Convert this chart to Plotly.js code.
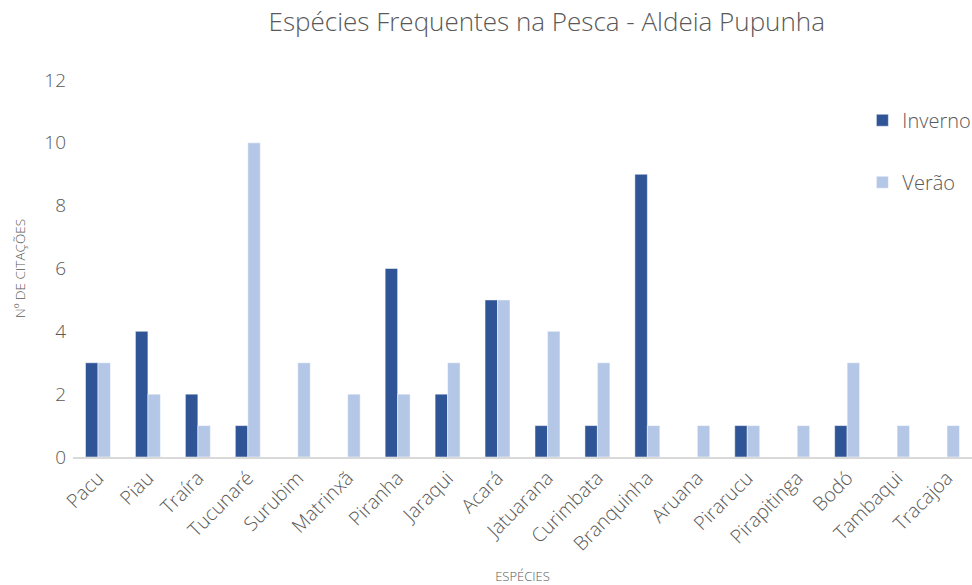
<!DOCTYPE html>
<html>
<head>
<meta charset="utf-8">
<script src="https://cdn.plot.ly/plotly-3.0.1.min.js"></script>
<style>
  html, body { margin: 0; padding: 0; background: #fff; }
  #chart { width: 972px; height: 585px; }
</style>
</head>
<body>
<div id="chart"></div>
<script>
// Species cited in fishing, by season
const especies = ["Pacu", "Piau", "Traíra", "Tucunaré", "Surubim", "Matrinxã", "Piranha", "Jaraqui",
  "Acará", "Jatuarana", "Curimbata", "Branquinha", "Aruana", "Pirarucu", "Pirapitinga", "Bodó",
  "Tambaqui", "Tracajoa"];
const inverno = [3, 4, 2, 1, 0, 0, 6, 2, 5, 1, 1, 9, 0, 1, 0, 1, 0, 0];
const verao   = [3, 2, 1, 10, 3, 2, 2, 3, 5, 4, 3, 1, 1, 1, 1, 3, 1, 1];
const yTicks = [0, 2, 4, 6, 8, 10, 12];

const fontFam = '"Open Sans", "Segoe UI", sans-serif';
const grey = '#595959';

const traces = [
  {
    type: 'bar', name: 'Inverno', x: especies, y: inverno,
    marker: { color: '#2F5597', line: { color: '#ffffff', width: 0.5 } },
    legendgroup: 'a'
  },
  {
    type: 'bar', name: 'Verão', x: especies, y: verao,
    marker: { color: '#B4C7E7', line: { color: '#ffffff', width: 0.5 } },
    legendgroup: 'b'
  }
];

const layout = {
  width: 972, height: 585,
  margin: { l: 66, r: 0, t: 80, b: 128, autoexpand: false },
  paper_bgcolor: '#ffffff', plot_bgcolor: '#ffffff',
  font: { family: fontFam, color: grey },
  title: {
    text: 'Espécies Frequentes na Pesca - Aldeia Pupunha',
    font: { family: fontFam, size: 26, weight: 300, color: grey },
    x: 0.5625, xanchor: 'center', y: 0.962, yanchor: 'middle'
  },
  barmode: 'group', bargap: 0.5, bargroupgap: 0,
  xaxis: {
    domain: [7 / 906, 1],
    range: [-0.5, especies.length - 0.5],
    automargin: false,
    tickangle: -45,
    tickfont: { size: 19.5, weight: 300, color: grey },
    showline: true, linecolor: '#D9D9D9', linewidth: 2,
    showgrid: false, zeroline: false, ticks: '',
    title: { text: 'ESPÉCIES', font: { size: 13, weight: 300, color: grey }, standoff: 22 }
  },
  yaxis: {
    anchor: 'free', position: 0,
    range: [0, 12], tickvals: yTicks, ticktext: yTicks.map(String),
    automargin: false,
    tickfont: { size: 19, weight: 300, color: grey },
    showgrid: false, zeroline: false, showline: false, ticks: '',
    title: { text: 'Nº DE CITAÇÕES', font: { size: 13.5, weight: 300, color: grey }, standoff: 14 }
  },
  showlegend: true,
  legend: {
    x: 0.879, y: 0.945, xanchor: 'left', yanchor: 'top',
    font: { size: 20, weight: 300, color: grey },
    bgcolor: 'rgba(0,0,0,0)',
    traceorder: 'grouped', tracegroupgap: 33,
    itemwidth: 30
  }
};

Plotly.newPlot('chart', traces, layout, { displayModeBar: false, staticPlot: true });
</script>
</body>
</html>
